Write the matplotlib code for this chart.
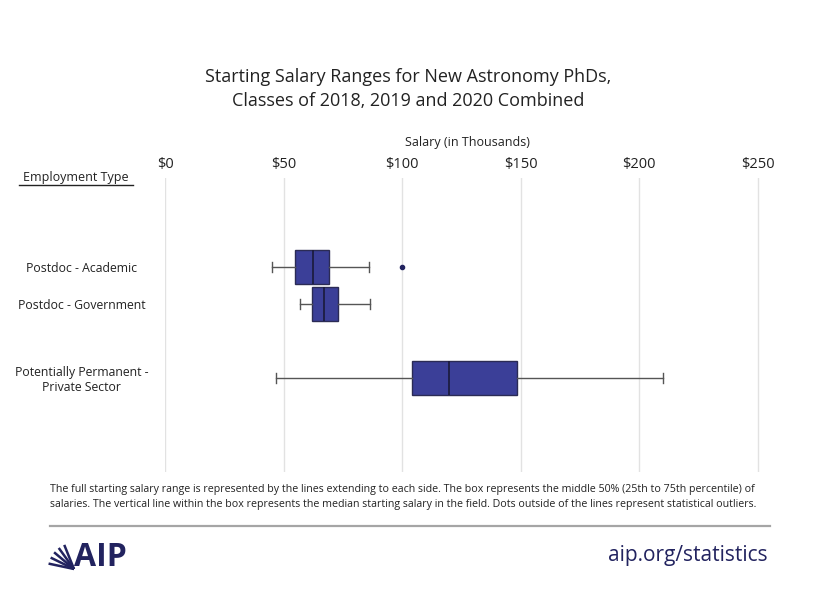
import numpy as np
import matplotlib
matplotlib.use("Agg")
import matplotlib.pyplot as plt

# ---------- Data (salary in thousands of $) ----------
categories = ["Postdoc - Academic", "Postdoc - Government",
              "Potentially Permanent -\nPrivate Sector"]
positions = [0, 1, 3]
whisker_low = [45, 57, 47]
q1 = [55, 62, 104]
median = [62.6, 67.2, 120]
q3 = [69.2, 73.1, 148.6]
whisker_high = [86, 86.5, 210]
outliers = [[100], [], []]

xticks = [0, 50, 100, 150, 200, 250]
xtick_labels = ["$0", "$50", "$100", "$150", "$200", "$250"]

TITLE = "Starting Salary Ranges for New Astronomy PhDs,\nClasses of 2018, 2019 and 2020 Combined"
NOTE = ("The full starting salary range is represented by the lines extending to each side. "
        "The box represents the middle 50% (25th to 75th percentile) of\n"
        "salaries. The vertical line within the box represents the median starting salary "
        "in the field. Dots outside of the lines represent statistical outliers.")

BOX_COLOR = "#3b3f98"
NAVY = "#22235f"
W, H = 820, 606
PX_PER_K = 2.3704   # pixels per $1k on the x axis

plt.rcParams["font.family"] = ["Open Sans", "DejaVu Sans"]

fig = plt.figure(figsize=(W / 100, H / 100), dpi=100)
ax = fig.add_axes([165 / W, 1 - 472 / H, 253 * PX_PER_K / W, 294 / H])

stats = []
for i in range(len(categories)):
    stats.append(dict(whislo=whisker_low[i], q1=q1[i], med=median[i], q3=q3[i],
                      whishi=whisker_high[i], fliers=outliers[i]))

ax.bxp(stats, positions=positions, orientation="horizontal", widths=0.92,
       patch_artist=True, showfliers=True,
       boxprops=dict(facecolor=BOX_COLOR, edgecolor="#2b2b55", linewidth=1.0),
       medianprops=dict(color="#1a1a3a", linewidth=1.2),
       whiskerprops=dict(color="#555555", linewidth=1.0),
       capprops=dict(color="#555555", linewidth=1.0),
       capwidths=0.27,
       flierprops=dict(marker="o", markersize=3, markerfacecolor=NAVY,
                       markeredgecolor=NAVY))

ax.set_xlim(0, 253)
ax.set_ylim(5.54, -2.4)
ax.set_xticks(xticks, xtick_labels)
ax.xaxis.tick_top()
ax.tick_params(axis="x", length=0, pad=4, labelsize=10.5, colors="#222222")
ax.grid(axis="x", color="#e2e2e2", linewidth=1.0)
ax.set_axisbelow(True)
for s in ax.spines.values():
    s.set_visible(False)

ax.set_yticks(positions, categories)
ax.tick_params(axis="y", length=0, pad=60, labelsize=8.8, colors="#222222")
for lab in ax.get_yticklabels():
    lab.set_ha("center")
    lab.set_multialignment("center")

# ---------- Texts ----------
fig.text(408 / W, 1 - 89 / H, TITLE, ha="center", va="center", fontsize=13,
         color="#222222", linespacing=1.45)
fig.text(467 / W, 1 - 142 / H, "Salary (in Thousands)", ha="center", va="center",
         fontsize=9, color="#222222")
fig.text(76 / W, 1 - 178 / H, "Employment Type", ha="center", va="center",
         fontsize=9, color="#222222")
fig.add_artist(plt.Line2D([19 / W, 133 / W], [1 - 185 / H, 1 - 185 / H],
                          color="#222222", linewidth=1.0))

fig.text(50 / W, 1 - 497 / H, NOTE, ha="left", va="center", fontsize=7.7,
         color="#222222", linespacing=1.4)
fig.add_artist(plt.Line2D([50 / W, 770 / W], [1 - 526 / H, 1 - 526 / H],
                          color="#a5a5a5", linewidth=1.6))

# ---------- AIP logo and URL ----------
cx, cy = 74, 569
for ang in [112, 126, 140, 154, 168]:
    a = np.radians(ang)
    fig.add_artist(plt.Line2D([cx / W, (cx + 26 * np.cos(a)) / W],
                              [1 - cy / H, 1 - (cy - 26 * np.sin(a)) / H],
                              color=NAVY, linewidth=1.8, solid_capstyle="butt"))
fig.text(74 / W, 1 - 558 / H, "AIP", ha="left", va="center", fontsize=23,
         fontweight="bold", color=NAVY, family=["Open Sans", "DejaVu Sans"])
fig.text(768 / W, 1 - 556 / H, "aip.org/statistics", ha="right", va="center",
         fontsize=15, color=NAVY)

fig.savefig("out.png", dpi=100)
